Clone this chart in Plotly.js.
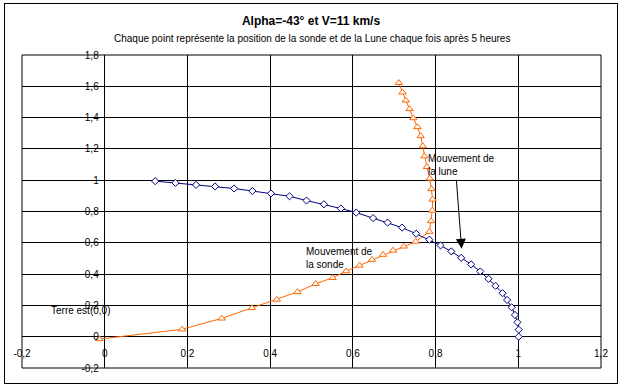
<!DOCTYPE html>
<html><head><meta charset="utf-8">
<script src="https://cdn.plot.ly/plotly-3.0.1.min.js"></script>
<style>
html,body{margin:0;padding:0;background:#fff}
#chart{position:absolute;left:0;top:0;width:622px;height:388px}
#frame{position:absolute;left:4px;top:3px;width:614px;height:381px;border:1px solid #000;box-sizing:border-box;pointer-events:none}
</style>
</head><body><div id="chart"></div><div id="frame"></div>
<script>
// Probe ("sonde") positions every 5 hours
const sondeX = [-0.013,0.187,0.283,0.356,0.416,0.466,0.510,0.551,0.584,0.616,0.646,0.673,0.697,0.723,0.752,0.785,0.789,0.792,0.793,0.790,0.786,0.779,0.773,0.769,0.764,0.756,0.746,0.737,0.728,0.720,0.711];
const sondeY = [-0.015,0.047,0.117,0.184,0.237,0.286,0.338,0.376,0.419,0.455,0.492,0.524,0.551,0.577,0.608,0.671,0.739,0.806,0.877,0.944,1.011,1.085,1.153,1.218,1.282,1.340,1.397,1.455,1.510,1.561,1.622];
// Moon ("lune") positions every 5 hours
const luneX = [0.122,0.171,0.221,0.267,0.313,0.357,0.402,0.447,0.488,0.530,0.571,0.608,0.649,0.684,0.719,0.753,0.785,0.812,0.838,0.862,0.886,0.908,0.928,0.945,0.962,0.973,0.984,0.992,0.998,1.001,1.001];
const luneY = [0.994,0.983,0.970,0.960,0.947,0.931,0.915,0.897,0.870,0.846,0.819,0.793,0.758,0.729,0.697,0.658,0.620,0.583,0.545,0.504,0.462,0.417,0.370,0.325,0.278,0.235,0.188,0.139,0.092,0.045,0.000];

const xTickVals = [-0.2,0,0.2,0.4,0.6,0.8,1,1.2];
const xTickText = ['-0,2','0','0,2','0,4','0,6','0,8','1','1,2'];
const yTickVals = [-0.2,0,0.2,0.4,0.6,0.8,1,1.2,1.4,1.6,1.8];
const yTickText = ['-0,2','0','0,2','0,4','0,6','0,8','1','1,2','1,4','1,6','1,8'];

const FONT = 'Liberation Sans, Arial, sans-serif';

const traces = [
  {x: sondeX, y: sondeY, type: 'scatter', mode: 'lines+markers', name: 'Sonde',
   line: {color: '#FF6600', width: 1},
   marker: {symbol: 'triangle-up', size: 6.5, color: '#FFFFFF', line: {color: '#FF6600', width: 1}}},
  {x: luneX, y: luneY, type: 'scatter', mode: 'lines+markers', name: 'Lune',
   line: {color: '#000080', width: 1},
   marker: {symbol: 'diamond', size: 5.5, color: '#FFFFFF', line: {color: '#000080', width: 1}}}
];

const layout = {
  width: 622, height: 388,
  margin: {l: 22, r: 21, t: 55, b: 20, pad: 0},
  paper_bgcolor: '#FFFFFF', plot_bgcolor: '#FFFFFF',
  showlegend: false,
  font: {family: FONT, size: 10, color: '#000'},
  title: {text: '<b>Alpha=-43° et V=11 km/s</b>', font: {family: FONT, size: 12, color: '#000'},
          x: 0.5, xanchor: 'center', y: 1 - 21/388, yanchor: 'middle', yref: 'container'},
  xaxis: {range: [-0.2, 1.2], tickvals: xTickVals, ticktext: xTickText,
          anchor: 'free', position: 0.1, showgrid: true, gridcolor: '#000', gridwidth: 1,
          zeroline: true, zerolinecolor: '#000', zerolinewidth: 1,
          showline: false, ticks: 'outside', ticklen: 7, tickcolor: 'rgba(0,0,0,0)',
          tickfont: {family: FONT, size: 10, color: '#000'}, automargin: false, fixedrange: true},
  yaxis: {range: [-0.2, 1.8], tickvals: yTickVals, ticktext: yTickText,
          anchor: 'free', position: 0.2/1.4, showgrid: true, gridcolor: '#000', gridwidth: 1,
          zeroline: true, zerolinecolor: '#000', zerolinewidth: 1,
          showline: false, ticks: 'outside', ticklen: 4, tickcolor: 'rgba(0,0,0,0)',
          tickfont: {family: FONT, size: 10, color: '#000'}, automargin: false, fixedrange: true},
  shapes: [
    {type: 'rect', xref: 'paper', yref: 'paper', x0: 0, x1: 1, y0: 0, y1: 1,
     line: {color: '#000', width: 1}, layer: 'above'}
  ],
  annotations: [
    {xref: 'paper', yref: 'paper', x: 0.5, y: 1 + (55-38)/313, xanchor: 'center', yanchor: 'middle',
     text: 'Chaque point représente la position de la sonde et de la Lune chaque fois après 5 heures',
     showarrow: false, font: {family: FONT, size: 10, color: '#000'}},
    {xref: 'x', yref: 'y', x: 0.776, y: 1.098, xanchor: 'left', yanchor: 'middle', align: 'left',
     text: 'Mouvement de<br>la lune', showarrow: false, font: {family: FONT, size: 10, color: '#000'}},
    {xref: 'x', yref: 'y', x: 0.863, y: 0.562, axref: 'x', ayref: 'y', ax: 0.850, ay: 1.013,
     text: '', showarrow: true, arrowhead: 2, arrowsize: 2, arrowwidth: 1, arrowcolor: '#000', standoff: 0},
    {xref: 'x', yref: 'y', x: 0.482, y: 0.50, xanchor: 'left', yanchor: 'middle', align: 'left',
     text: 'Mouvement de<br>la sonde', showarrow: false, font: {family: FONT, size: 10, color: '#000'}},
    {xref: 'x', yref: 'y', x: -0.135, y: 0.167, xanchor: 'left', yanchor: 'middle', align: 'left',
     text: 'Terre est(0,0)', showarrow: false, font: {family: FONT, size: 10, color: '#000'}}
  ]
};

Plotly.newPlot('chart', traces, layout, {displayModeBar: false, staticPlot: true});
</script>
</body></html>
